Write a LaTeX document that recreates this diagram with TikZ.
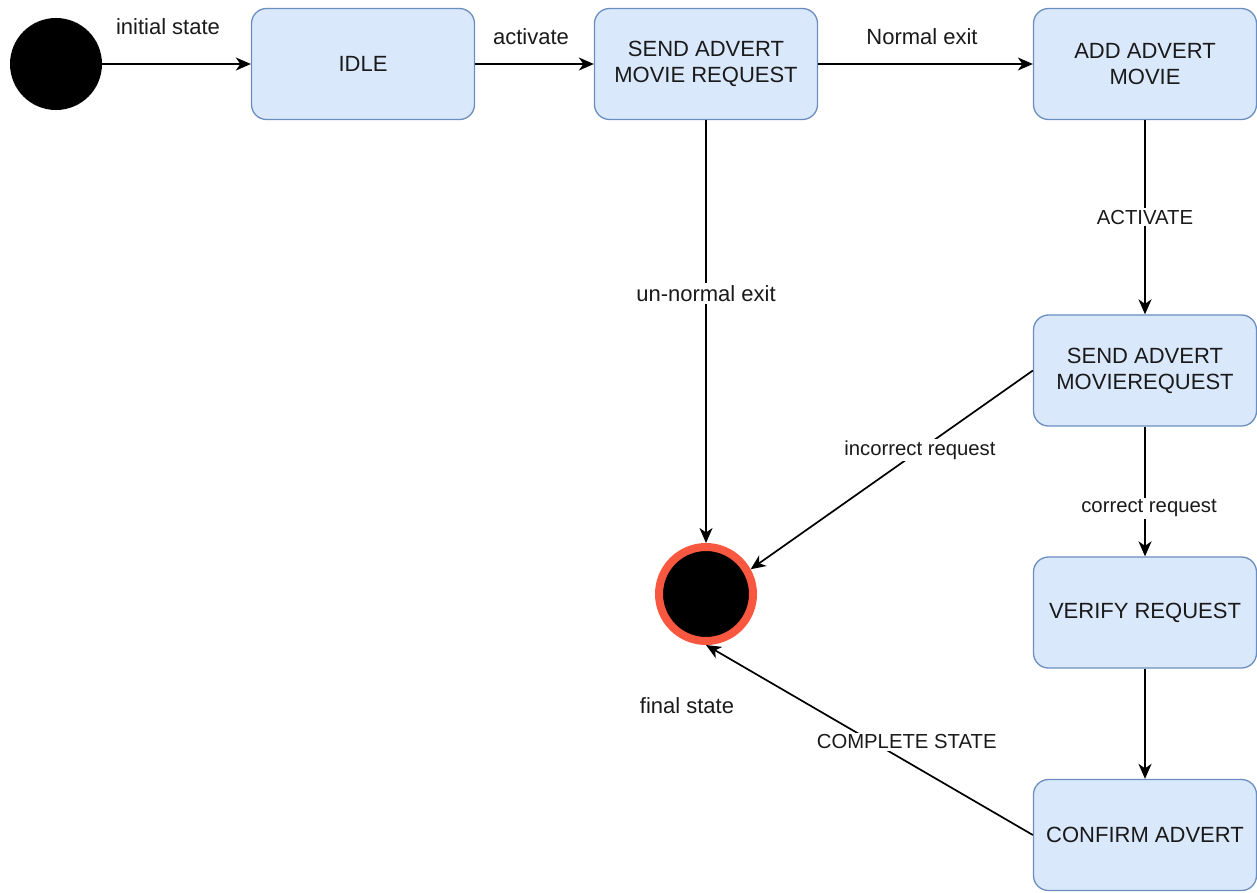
\documentclass[tikz,border=0pt]{standalone}
\usepackage{fontspec}
\setmainfont{Liberation Sans}
\usetikzlibrary{arrows.meta}
\definecolor{boxfill}{HTML}{DAE8FC}
\definecolor{boxline}{HTML}{6C8EBF}
\definecolor{ringred}{HTML}{FA5741}
\definecolor{txt}{HTML}{1A1A1A}

\begin{document}
\begin{tikzpicture}[x=1pt,y=-1pt,
  every node/.style={text=txt},
  state/.style={draw=boxline, fill=boxfill, line width=1.3pt, rounded corners=15pt,
    minimum width=223pt, minimum height=111pt, align=center, inner sep=0pt,
    font=\fontsize{22}{26}\selectfont},
  flow/.style={draw=black, line width=1.7pt, -{Stealth[length=15pt,width=13pt,inset=4.5pt]}},
  biglbl/.style={font=\fontsize{22}{26}\selectfont, inner sep=2pt},
  smalllbl/.style={font=\fontsize{20.3}{24}\selectfont, fill=white, inner sep=2pt},
]
\useasboundingbox (0,0) rectangle (1257,892);

% pseudo-states
\node[circle, fill=black, minimum size=92pt, inner sep=0pt] (init) at (56,64) {};
\node[circle, fill=black, draw=ringred, line width=8pt, minimum size=94pt, inner sep=0pt] (fin) at (706,594) {};

% states
\node[state] (idle) at (363,64)   {IDLE};
\node[state] (smr)  at (706,64)   {SEND ADVERT\\MOVIE REQUEST};
\node[state] (add)  at (1145,64)  {ADD ADVERT\\MOVIE};
\node[state] (s2)   at (1145,370.5) {SEND ADVERT\\MOVIEREQUEST};
\node[state] (ver)  at (1145,612.5) {VERIFY REQUEST};
\node[state] (conf) at (1145,835) {CONFIRM ADVERT};

% free text
\node[biglbl] (tinit) at (168,27) {initial state};
\node[biglbl] (tact)  at (531,37) {activate};
\node[biglbl] (tnorm) at (922,37) {Normal exit};
\node[biglbl] (tfin)  at (687,706) {final state};

% transitions
\draw[flow] (init) -- (idle);
\draw[flow] (idle) -- (smr);
\draw[flow] (smr) -- (add);
\draw[flow] (add) -- (s2) node[midway, smalllbl] (lact) {ACTIVATE};
\draw[flow] (smr) -- (fin) node[pos=0.41, biglbl, fill=white] (lun) {un-normal exit};
\draw[flow] (s2.west) -- (fin.29) node[pos=0.4, smalllbl] (linc) {incorrect request};
\draw[flow] (s2) -- (ver) node[pos=0.63, xshift=4pt, smalllbl] (lcor) {correct request};
\draw[flow] (ver) -- (conf);
\draw[flow] (conf.west) -- (fin.south) node[pos=0.49, xshift=34pt, smalllbl] (lcomp) {COMPLETE STATE};
\end{tikzpicture}
\end{document}
